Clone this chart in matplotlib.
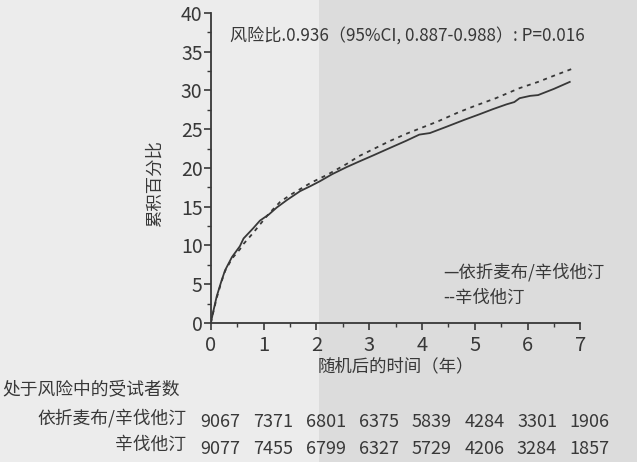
import numpy as np
import matplotlib.pyplot as plt
from matplotlib.patches import Rectangle
from matplotlib.ticker import MultipleLocator

plt.rcParams['font.family'] = ['Noto Sans CJK SC', 'DejaVu Sans']

# cumulative percentage
t_combo = [0, 0.04, 0.11, 0.2, 0.27, 0.4, 0.55, 0.62, 0.8, 0.93, 1.1, 1.25, 1.45, 1.69, 1.9,
           2.07, 2.3, 2.57, 2.8, 3.07, 3.4, 3.7, 3.95, 4.15, 4.46, 4.8, 5.08, 5.35, 5.6, 5.75,
           5.85, 6.05, 6.2, 6.5, 6.8]
y_combo = [0, 1.3, 3.4, 5.4, 6.8, 8.5, 9.9, 10.9, 12.2, 13.2, 14.0, 14.9, 15.9, 17.0, 17.7,
           18.3, 19.2, 20.1, 20.8, 21.6, 22.6, 23.5, 24.3, 24.5, 25.3, 26.2, 26.9, 27.6, 28.2, 28.5,
           29.0, 29.3, 29.4, 30.2, 31.1]

t_simva = [0, 0.04, 0.11, 0.2, 0.27, 0.4, 0.55, 0.62, 0.8, 0.93, 1.1, 1.31, 1.5, 1.7, 1.9,
           2.2, 2.57, 2.8, 3.1, 3.4, 3.7, 4.0, 4.3, 4.7, 5.0, 5.4, 5.85, 6.2, 6.5, 6.85]
y_simva = [0, 1.2, 3.2, 5.3, 6.7, 8.3, 9.5, 10.2, 11.6, 12.7, 14.1, 15.6, 16.5, 17.3, 18.1,
           19.1, 20.5, 21.5, 22.5, 23.5, 24.4, 25.2, 26.0, 27.2, 28.0, 29.0, 30.3, 31.1, 31.9, 32.8]

years = [0, 1, 2, 3, 4, 5, 6, 7]
risk_combo = [9067, 7371, 6801, 6375, 5839, 4284, 3301, 1906]
risk_simva = [9077, 7455, 6799, 6327, 5729, 4206, 3284, 1857]

label_combo = '依折麦布/辛伐他汀'
label_simva = '辛伐他汀'
title = '风险比.0.936（95%CI, 0.887-0.988）: P=0.016'

ink = '#383838'

fig = plt.figure(figsize=(6.37, 4.62), dpi=100, facecolor='#ececec')
# shadow of the photographed page
fig.patches.append(Rectangle((0.5, 0), 0.5, 1, transform=fig.transFigure,
                             facecolor='#dcdcdc', edgecolor='none', zorder=-10))

ax = fig.add_axes([0.331, 0.301, 0.58, 0.671])
ax.patch.set_alpha(0)

ax.plot(t_combo, y_combo, color=ink, lw=1.3, solid_joinstyle='round')
ax.plot(t_simva, y_simva, color=ink, lw=1.3, linestyle=(0, (2.2, 2.6)))

ax.set_xlim(0, 7)
ax.set_ylim(0, 40)
ax.xaxis.set_major_locator(MultipleLocator(1))
ax.xaxis.set_minor_locator(MultipleLocator(0.5))
ax.yaxis.set_major_locator(MultipleLocator(5))
ax.yaxis.set_minor_locator(MultipleLocator(2.5))
for s in ['top', 'right']:
    ax.spines[s].set_visible(False)
for s in ['left', 'bottom']:
    ax.spines[s].set_color(ink)
    ax.spines[s].set_linewidth(1.3)
ax.tick_params(which='major', length=5, width=1.2, color=ink, labelcolor=ink,
               labelsize=14, pad=1)
ax.tick_params(axis='x', which='major', labelsize=14.5, pad=4)
ax.tick_params(which='minor', length=3, width=1.0, color=ink)

ax.set_ylabel('累积百分比', fontsize=12.5, color=ink)
ax.yaxis.set_label_coords(-0.128, 0.45)
ax.set_xlabel('随机后的时间（年）', fontsize=12.5, color=ink, labelpad=1)

ax.text(0.36, 37.0, title, fontsize=12.3, color=ink, va='center')
ax.text(4.4, 6.6, '—' + label_combo, fontsize=12.5, color=ink, va='center')
ax.text(4.4, 3.3, '--' + label_simva, fontsize=12.5, color=ink, va='center')

# number at risk table
trans = ax.get_xaxis_transform()
fig.text(0.003, 0.155, '处于风险中的受试者数', fontsize=12.8, color=ink, va='center')
fig.text(0.292, 0.095, label_combo, fontsize=12.8, color=ink, va='center', ha='right')
fig.text(0.292, 0.037, label_simva, fontsize=12.8, color=ink, va='center', ha='right')
for x, a, b in zip(years, risk_combo, risk_simva):
    ax.text(x + 0.18, -0.32, str(a), transform=trans, fontsize=13, color=ink,
            ha='center', va='center', clip_on=False)
    ax.text(x + 0.18, -0.408, str(b), transform=trans, fontsize=13, color=ink,
            ha='center', va='center', clip_on=False)

fig.savefig('out.png', dpi=100, facecolor=fig.get_facecolor())
